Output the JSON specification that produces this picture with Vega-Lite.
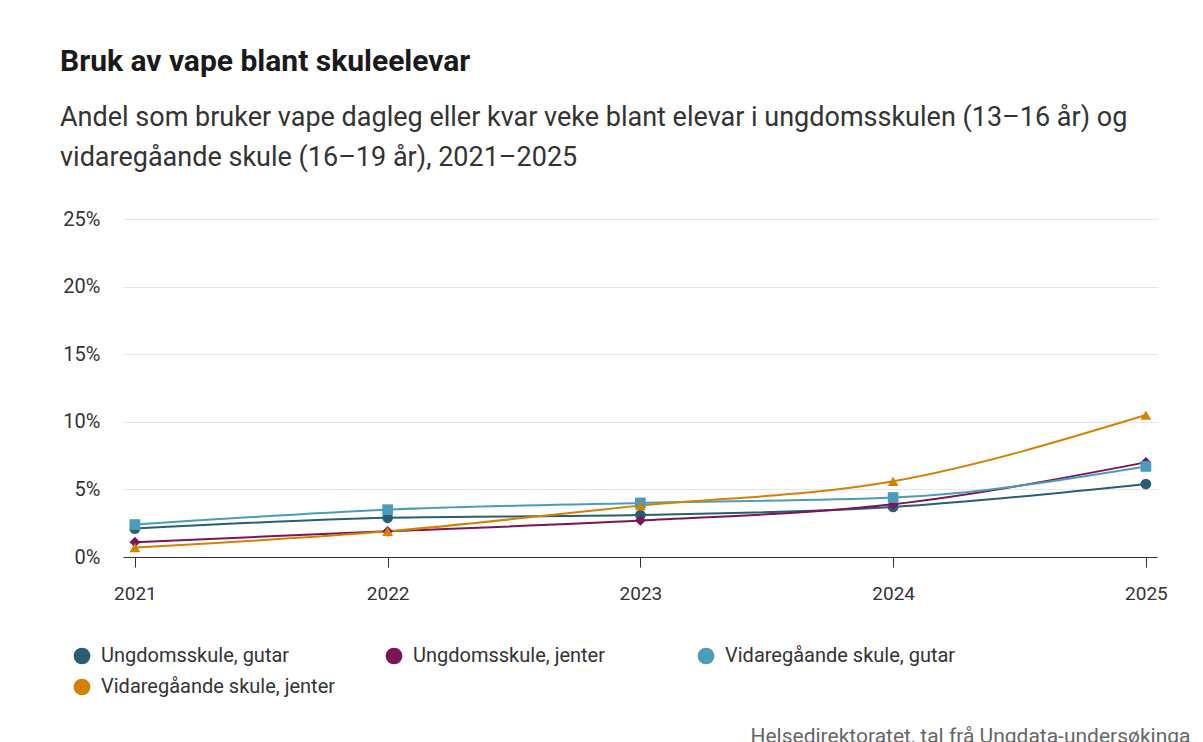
{
  "$schema": "https://vega.github.io/schema/vega-lite/v6.json",
  "autosize": "none",
  "width": 1034,
  "height": 338,
  "padding": {"left": 123, "top": 219, "right": 46, "bottom": 185},
  "background": "white",
  "title": {
    "text": "Bruk av vape blant skuleelevar",
    "subtitle": ["Andel som bruker vape dagleg eller kvar veke blant elevar i ungdomsskulen (13–16 år) og", "vidaregåande skule (16–19 år), 2021–2025"],
    "anchor": "start",
    "frame": "group",
    "dx": -63,
    "offset": 38,
    "font": "Roboto",
    "fontSize": 30,
    "fontWeight": "bold",
    "color": "#1a1a1a",
    "subtitleFont": "Roboto",
    "subtitleFontSize": 27,
    "subtitleColor": "#333333",
    "subtitleLineHeight": 40,
    "subtitlePadding": 28
  },
  "data": {
    "values": [
      {"serie": "Ungdomsskule, gutar", "year": 2021, "value": 2.1},
      {"serie": "Ungdomsskule, gutar", "year": 2022, "value": 2.9},
      {"serie": "Ungdomsskule, gutar", "year": 2023, "value": 3.1},
      {"serie": "Ungdomsskule, gutar", "year": 2024, "value": 3.7},
      {"serie": "Ungdomsskule, gutar", "year": 2025, "value": 5.4},
      {"serie": "Ungdomsskule, jenter", "year": 2021, "value": 1.1},
      {"serie": "Ungdomsskule, jenter", "year": 2022, "value": 1.9},
      {"serie": "Ungdomsskule, jenter", "year": 2023, "value": 2.7},
      {"serie": "Ungdomsskule, jenter", "year": 2024, "value": 3.9},
      {"serie": "Ungdomsskule, jenter", "year": 2025, "value": 7.0},
      {"serie": "Vidaregåande skule, gutar", "year": 2021, "value": 2.4},
      {"serie": "Vidaregåande skule, gutar", "year": 2022, "value": 3.5},
      {"serie": "Vidaregåande skule, gutar", "year": 2023, "value": 4.0},
      {"serie": "Vidaregåande skule, gutar", "year": 2024, "value": 4.4},
      {"serie": "Vidaregåande skule, gutar", "year": 2025, "value": 6.7},
      {"serie": "Vidaregåande skule, jenter", "year": 2021, "value": 0.7},
      {"serie": "Vidaregåande skule, jenter", "year": 2022, "value": 1.9},
      {"serie": "Vidaregåande skule, jenter", "year": 2023, "value": 3.8},
      {"serie": "Vidaregåande skule, jenter", "year": 2024, "value": 5.6},
      {"serie": "Vidaregåande skule, jenter", "year": 2025, "value": 10.5}
    ]
  },
  "encoding": {
    "x": {
      "field": "year",
      "type": "quantitative",
      "scale": {"domain": [2020.953, 2025.044], "nice": false, "zero": false},
      "axis": {
        "values": [2021, 2022, 2023, 2024, 2025],
        "format": "d",
        "grid": false,
        "domainColor": "#333333",
        "domainWidth": 1,
        "tickColor": "#333333",
        "tickSize": 10,
        "labelFlush": false,
        "labelPadding": 17,
        "labelFont": "Roboto",
        "labelFontSize": 19,
        "labelColor": "#333333",
        "title": "Helsedirektoratet, tal frå Ungdata-undersøkinga",
        "titleFont": "Roboto",
        "titleFontSize": 21,
        "titleFontWeight": "normal",
        "titleColor": "#666666",
        "titleAlign": "right",
        "titleAnchor": "end",
        "titleX": 1067,
        "titleY": 179,
        "titleBaseline": "middle"
      }
    },
    "y": {
      "field": "value",
      "type": "quantitative",
      "scale": {"domain": [0, 25], "nice": false},
      "axis": {
        "values": [0, 5, 10, 15, 20, 25],
        "labelExpr": "datum.value + '%'",
        "domain": false,
        "ticks": false,
        "gridColor": "#e6e6e6",
        "gridWidth": 1,
        "labelPadding": 23,
        "labelFont": "Roboto",
        "labelFontSize": 20,
        "labelColor": "#333333",
        "title": null
      }
    }
  },
  "layer": [
    {
      "mark": {"type": "line", "interpolate": "monotone", "strokeWidth": 2},
      "encoding": {
        "color": {
          "field": "serie",
          "type": "nominal",
          "scale": {
            "domain": ["Ungdomsskule, gutar", "Ungdomsskule, jenter", "Vidaregåande skule, gutar", "Vidaregåande skule, jenter"],
            "range": ["#2a5d72", "#7b1557", "#4a9cbb", "#d48000"]
          },
          "legend": {
            "orient": "none",
            "legendX": -51,
            "legendY": 427,
            "direction": "horizontal",
            "columns": 3,
            "gridAlign": "all",
            "columnPadding": 48,
            "rowPadding": 11,
            "symbolType": "circle",
            "symbolSize": 280,
            "symbolStrokeWidth": 0,
            "symbolOpacity": 1,
            "labelOffset": 9,
            "labelFont": "Roboto",
            "labelFontSize": 20,
            "labelColor": "#333333",
            "labelLimit": 400,
            "title": null,
            "encode": {
              "symbols": {"update": {"shape": {"value": "circle"}, "fill": {"scale": "color", "field": "value"}}}
            }
          }
        }
      }
    },
    {
      "transform": [{"filter": "datum.serie === 'Ungdomsskule, gutar'"}],
      "mark": {"type": "point", "filled": true, "size": 115, "opacity": 1, "shape": "circle"},
      "encoding": {"fill": {"field": "serie", "type": "nominal", "legend": null, "scale": {"domain": ["Ungdomsskule, gutar", "Ungdomsskule, jenter", "Vidaregåande skule, gutar", "Vidaregåande skule, jenter"], "range": ["#2a5d72", "#7b1557", "#4a9cbb", "#d48000"]}}}
    },
    {
      "transform": [{"filter": "datum.serie === 'Ungdomsskule, jenter'"}],
      "mark": {"type": "point", "filled": true, "size": 115, "opacity": 1, "shape": "diamond"},
      "encoding": {"fill": {"field": "serie", "type": "nominal", "legend": null, "scale": {"domain": ["Ungdomsskule, gutar", "Ungdomsskule, jenter", "Vidaregåande skule, gutar", "Vidaregåande skule, jenter"], "range": ["#2a5d72", "#7b1557", "#4a9cbb", "#d48000"]}}}
    },
    {
      "transform": [{"filter": "datum.serie === 'Vidaregåande skule, gutar'"}],
      "mark": {"type": "point", "filled": true, "size": 115, "opacity": 1, "shape": "square"},
      "encoding": {"fill": {"field": "serie", "type": "nominal", "legend": null, "scale": {"domain": ["Ungdomsskule, gutar", "Ungdomsskule, jenter", "Vidaregåande skule, gutar", "Vidaregåande skule, jenter"], "range": ["#2a5d72", "#7b1557", "#4a9cbb", "#d48000"]}}}
    },
    {
      "transform": [{"filter": "datum.serie === 'Vidaregåande skule, jenter'"}],
      "mark": {"type": "point", "filled": true, "size": 115, "opacity": 1, "shape": "triangle-up"},
      "encoding": {"fill": {"field": "serie", "type": "nominal", "legend": null, "scale": {"domain": ["Ungdomsskule, gutar", "Ungdomsskule, jenter", "Vidaregåande skule, gutar", "Vidaregåande skule, jenter"], "range": ["#2a5d72", "#7b1557", "#4a9cbb", "#d48000"]}}}
    }
  ],
  "config": {
    "view": {"stroke": null}
  }
}
